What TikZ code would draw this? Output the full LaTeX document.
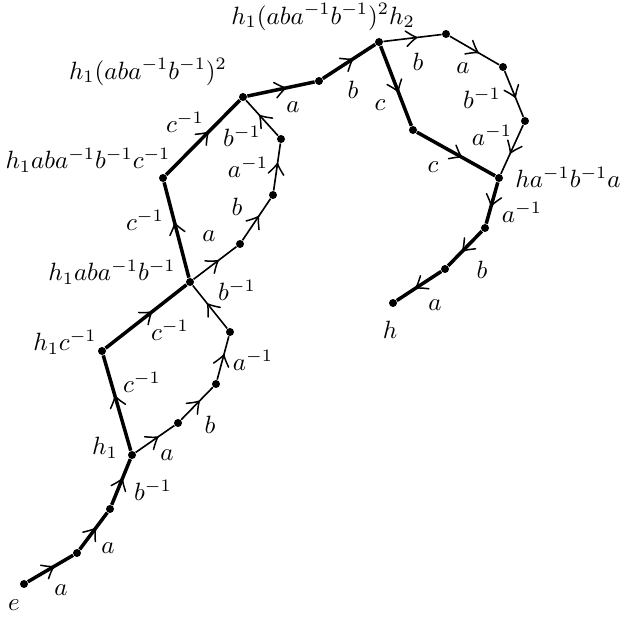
\documentclass[tikz,border=0pt]{standalone}
\usetikzlibrary{decorations.markings}
\begin{document}
\begin{tikzpicture}[x=0.4pt,y=-0.4pt,
  midarrow/.style={postaction={decorate},decoration={markings,mark=at position 0.57 with {\draw[line width=0.6pt,line cap=round,solid] (-4.2pt,3.1pt) .. controls (-1.9pt,1.2pt) .. (0pt,0pt) .. controls (-1.9pt,-1.2pt) .. (-4.2pt,-3.1pt);}}},
  thinedge/.style={line width=0.65pt,midarrow},
  thickedge/.style={line width=1.4pt,midarrow},
  dot/.style={circle,fill,inner sep=0pt,minimum size=3.2pt},
  lbl/.style={inner sep=0pt}]
\useasboundingbox (0,0) rectangle (621,619);
% vertices
\node[dot] (e)   at (24,584) {};
\node[dot] (p1)  at (77,553) {};
\node[dot] (p2)  at (110,509) {};
\node[dot] (h1)  at (132,455) {};
\node[dot] (la1) at (178,423) {};
\node[dot] (lb1) at (216,384) {};
\node[dot] (lc1) at (230,332) {};
\node[dot] (hc)  at (102,351) {};
\node[dot] (m)   at (190,282) {};
\node[dot] (ua)  at (240,244) {};
\node[dot] (ub)  at (273,195) {};
\node[dot] (uc)  at (281,139) {};
\node[dot] (mc)  at (163,178) {};
\node[dot] (sq)  at (243,97) {};
\node[dot] (q)   at (319,81) {};
\node[dot] (h2)  at (379,42) {};
\node[dot] (ra)  at (446,34) {};
\node[dot] (rb)  at (503,67) {};
\node[dot] (rc)  at (525,121) {};
\node[dot] (cc)  at (413,130) {};
\node[dot] (t)   at (499,178) {};
\node[dot] (s1)  at (485,228) {};
\node[dot] (s2)  at (445,269) {};
\node[dot] (h)   at (393,303) {};
% thick path
\draw[thickedge] (e) -- (p1);
\draw[thickedge] (p1) -- (p2);
\draw[thickedge] (p2) -- (h1);
\draw[thickedge] (h1) -- (hc);
\draw[thickedge] (hc) -- (m);
\draw[thickedge] (m) -- (mc);
\draw[thickedge] (mc) -- (sq);
\draw[thickedge] (sq) -- (q);
\draw[thickedge] (q) -- (h2);
\draw[thickedge] (h2) -- (cc);
\draw[thickedge] (cc) -- (t);
\draw[thickedge] (t) -- (s1);
\draw[thickedge] (s1) -- (s2);
\draw[thickedge] (s2) -- (h);
% thin loops
\draw[thinedge] (h1) -- (la1);
\draw[thinedge] (la1) -- (lb1);
\draw[thinedge] (lb1) -- (lc1);
\draw[thinedge] (lc1) -- (m);
\draw[thinedge] (m) -- (ua);
\draw[thinedge] (ua) -- (ub);
\draw[thinedge] (ub) -- (uc);
\draw[thinedge] (uc) -- (sq);
\draw[thinedge] (h2) -- (ra);
\draw[thinedge] (ra) -- (rb);
\draw[thinedge] (rb) -- (rc);
\draw[thinedge] (rc) -- (t);
% labels
\node[lbl] (L1)  at (14,605) {$e$};
\node[lbl] (L2)  at (61,590) {$a$};
\node[lbl] (L3)  at (108,548) {$a$};
\node[lbl] (L4)  at (153,490) {$b^{-1}$};
\node[lbl] (L5)  at (105,448) {$h_1$};
\node[lbl] (L6)  at (167,455) {$a$};
\node[lbl] (L7)  at (210,425) {$b$};
\node[lbl] (L8)  at (253,360) {$a^{-1}$};
\node[lbl] (L9)  at (237,290) {$b^{-1}$};
\node[lbl] (L10) at (170,330) {$c^{-1}$};
\node[lbl] (L11) at (142,382) {$c^{-1}$};
\node[lbl] (L12) at (65,342) {$h_1c^{-1}$};
\node[lbl] (L13) at (112,272) {$h_1aba^{-1}b^{-1}$};
\node[lbl] (L14) at (148,72) {$h_1(aba^{-1}b^{-1})^2$};
\node[lbl] (L15) at (185,122) {$c^{-1}$};
\node[lbl] (L16) at (242,136) {$b^{-1}$};
\node[lbl] (L17) at (88,160) {$h_1aba^{-1}b^{-1}c^{-1}$};
\node[lbl] (L18) at (248,167) {$a^{-1}$};
\node[lbl] (L19) at (237,207) {$b$};
\node[lbl] (L20) at (145,220) {$c^{-1}$};
\node[lbl] (L21) at (209,236) {$a$};
\node[lbl] (L22) at (293,107) {$a$};
\node[lbl] (L23) at (323,17) {$h_1(aba^{-1}b^{-1})^2h_2$};
\node[lbl] (L24) at (353,90) {$b$};
\node[lbl] (L25) at (380,105) {$c$};
\node[lbl] (L26) at (418,62) {$b$};
\node[lbl] (L27) at (463,68) {$a$};
\node[lbl] (L28) at (482,98) {$b^{-1}$};
\node[lbl] (L29) at (492,135) {$a^{-1}$};
\node[lbl] (L30) at (433,167) {$c$};
\node[lbl] (L31) at (568,177) {$ha^{-1}b^{-1}a$};
\node[lbl] (L32) at (522,212) {$a^{-1}$};
\node[lbl] (L33) at (482,270) {$b$};
\node[lbl] (L34) at (435,305) {$a$};
\node[lbl] (L35) at (390,330) {$h$};
\end{tikzpicture}
\end{document}
